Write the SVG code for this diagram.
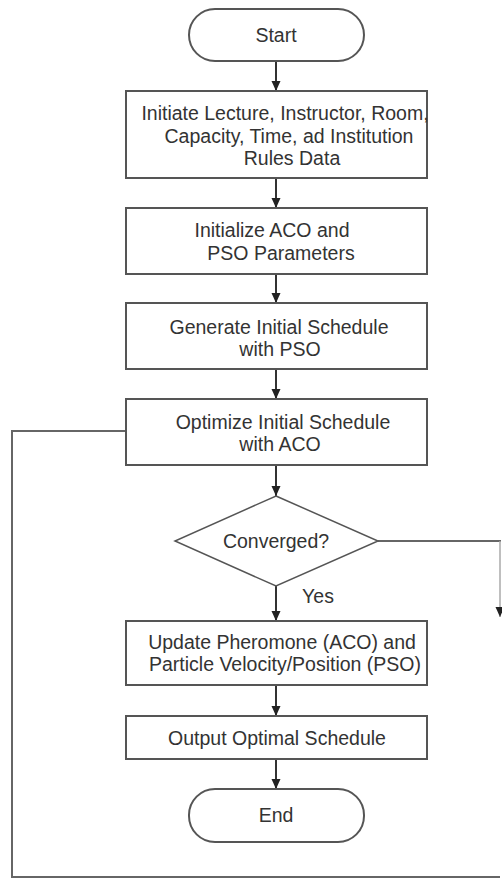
<svg xmlns="http://www.w3.org/2000/svg" width="502" height="878" viewBox="0 0 502 878">
<style>
.box{fill:#fff;stroke:#555;stroke-width:2}
.t{font-family:"Liberation Sans",Arial,sans-serif;font-size:19.5px;fill:#333;text-anchor:middle}
.c{fill:none;stroke:#333;stroke-width:2}
.f{fill:none;stroke:#aaa;stroke-width:1.5}
</style>
<defs>
<marker id="ah" markerUnits="userSpaceOnUse" markerWidth="10" markerHeight="10" viewBox="0 0 10 10" refX="10" refY="5" orient="auto">
<path d="M0,0.5 L10,5 L0,9.5 Z" fill="#222"/>
</marker>
</defs>
<rect width="502" height="878" fill="#fff"/>
<g id="connectors">
<line class="c" x1="276" y1="61" x2="276" y2="91" marker-end="url(#ah)"/>
<line class="c" x1="276" y1="178" x2="276" y2="208" marker-end="url(#ah)"/>
<line class="c" x1="276" y1="274" x2="276" y2="303" marker-end="url(#ah)"/>
<line class="c" x1="276" y1="369" x2="276" y2="399" marker-end="url(#ah)"/>
<line class="c" x1="276" y1="465" x2="276" y2="496" marker-end="url(#ah)"/>
<line class="c" x1="276" y1="586" x2="276" y2="621" marker-end="url(#ah)"/>
<line class="c" x1="276" y1="685" x2="276" y2="716" marker-end="url(#ah)"/>
<line class="c" x1="276" y1="759" x2="276" y2="789" marker-end="url(#ah)"/>
<line class="c" x1="378" y1="541" x2="501" y2="541" style="stroke-width:1.5"/>
<line class="f" x1="500" y1="541" x2="500" y2="617" marker-end="url(#ah)"/>
<polyline class="c" points="500,877 12,877 12,431 126,431" style="stroke:#666"/>
<text class="t" x="318" y="603">Yes</text>
</g>
<g id="start">
<rect class="box" x="189" y="9" width="175" height="52" rx="26"/>
<text class="t" x="276" y="42">Start</text>
</g>
<g id="init-data">
<rect class="box" x="126" y="91" width="301" height="87"/>
<text class="t" x="285" y="120">Initiate Lecture, Instructor, Room,</text>
<text class="t" x="289" y="143">Capacity, Time, ad Institution</text>
<text class="t" x="292" y="165">Rules Data</text>
</g>
<g id="init-params">
<rect class="box" x="126" y="208" width="301" height="66"/>
<text class="t" x="272" y="237">Initialize ACO and</text>
<text class="t" x="281" y="260">PSO Parameters</text>
</g>
<g id="generate">
<rect class="box" x="126" y="303" width="301" height="66"/>
<text class="t" x="279" y="334">Generate Initial Schedule</text>
<text class="t" x="280" y="356">with PSO</text>
</g>
<g id="optimize">
<rect class="box" x="126" y="399" width="301" height="66"/>
<text class="t" x="283" y="429">Optimize Initial Schedule</text>
<text class="t" x="280" y="451">with ACO</text>
</g>
<g id="converged">
<polygon class="box" points="276,496 378,541 276,586 175,541" style="stroke-width:1.5"/>
<text class="t" x="276" y="548">Converged?</text>
</g>
<g id="update">
<rect class="box" x="126" y="621" width="301" height="64"/>
<text class="t" x="282" y="649">Update Pheromone (ACO) and</text>
<text class="t" x="285" y="671">Particle Velocity/Position (PSO)</text>
</g>
<g id="output">
<rect class="box" x="126" y="716" width="301" height="43"/>
<text class="t" x="277" y="745">Output Optimal Schedule</text>
</g>
<g id="end">
<rect class="box" x="189" y="789" width="175" height="53" rx="26"/>
<text class="t" x="276" y="822">End</text>
</g>
</svg>
